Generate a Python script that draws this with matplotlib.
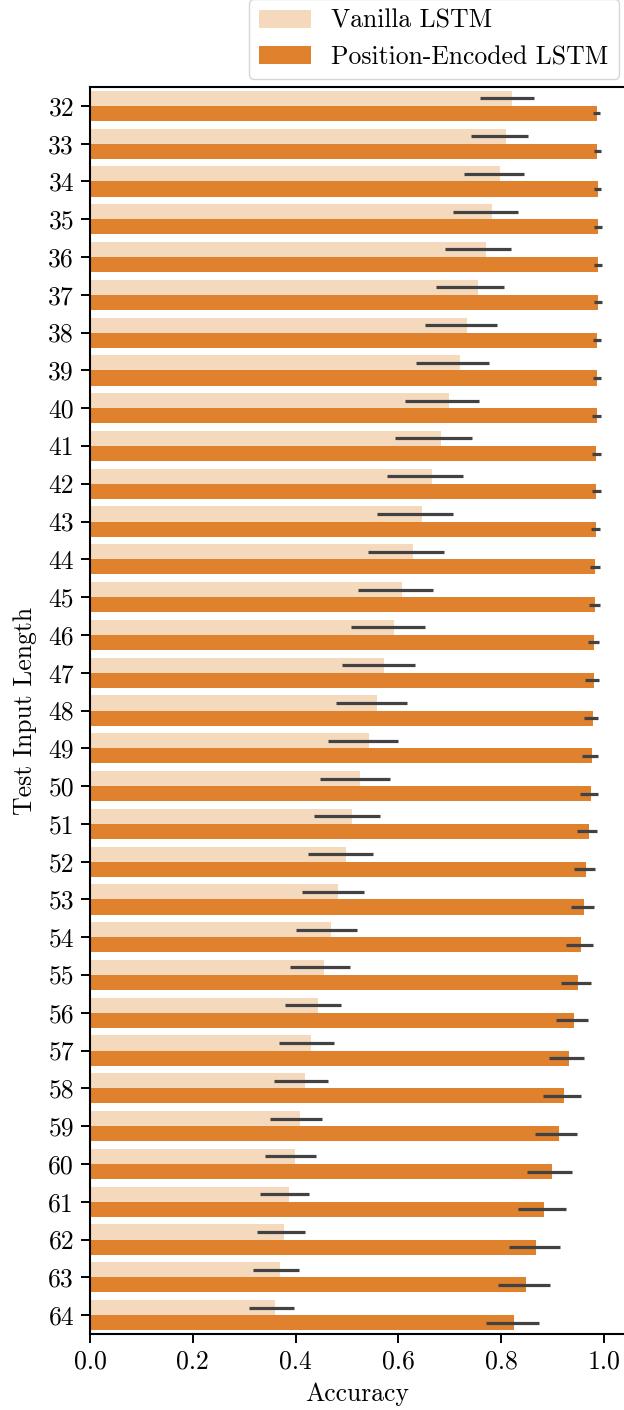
import matplotlib
matplotlib.use('Agg')
import matplotlib.pyplot as plt
import numpy as np

plt.rcParams['font.family'] = 'serif'
plt.rcParams['font.serif'] = ['cmr10', 'DejaVu Serif']
plt.rcParams['mathtext.fontset'] = 'cm'
plt.rcParams['axes.formatter.use_mathtext'] = True

LENGTHS = list(range(32, 65))

vanilla_mean = [0.821, 0.810, 0.798, 0.783, 0.770, 0.754, 0.734, 0.719, 0.699,
                0.683, 0.665, 0.646, 0.628, 0.608, 0.591, 0.573, 0.558, 0.542,
                0.525, 0.509, 0.498, 0.482, 0.468, 0.455, 0.443, 0.430, 0.418,
                0.408, 0.399, 0.387, 0.377, 0.369, 0.360]
vanilla_lo = [0.758, 0.741, 0.727, 0.707, 0.691, 0.674, 0.652, 0.635, 0.613,
              0.594, 0.577, 0.558, 0.541, 0.522, 0.507, 0.490, 0.478, 0.463,
              0.447, 0.435, 0.424, 0.412, 0.400, 0.389, 0.379, 0.368, 0.358,
              0.350, 0.341, 0.331, 0.324, 0.317, 0.309]
vanilla_hi = [0.864, 0.852, 0.844, 0.832, 0.819, 0.806, 0.791, 0.776, 0.757,
              0.743, 0.726, 0.707, 0.689, 0.668, 0.652, 0.633, 0.617, 0.600,
              0.583, 0.564, 0.550, 0.534, 0.519, 0.505, 0.489, 0.475, 0.464,
              0.451, 0.439, 0.427, 0.418, 0.407, 0.397]

pe_mean = [0.987, 0.987, 0.989, 0.989, 0.989, 0.989, 0.987, 0.987, 0.987,
           0.985, 0.985, 0.985, 0.983, 0.983, 0.981, 0.980, 0.978, 0.976,
           0.974, 0.970, 0.966, 0.962, 0.956, 0.950, 0.941, 0.932, 0.923,
           0.912, 0.899, 0.883, 0.868, 0.849, 0.825]
pe_lo = [0.978, 0.980, 0.981, 0.980, 0.980, 0.980, 0.979, 0.978, 0.977,
         0.977, 0.976, 0.974, 0.972, 0.970, 0.968, 0.964, 0.962, 0.958,
         0.953, 0.947, 0.941, 0.935, 0.927, 0.917, 0.906, 0.894, 0.881,
         0.865, 0.851, 0.833, 0.815, 0.793, 0.770]
pe_hi = [0.993, 0.995, 0.995, 0.996, 0.996, 0.996, 0.995, 0.995, 0.995,
         0.995, 0.994, 0.993, 0.993, 0.992, 0.991, 0.991, 0.989, 0.989,
         0.988, 0.986, 0.983, 0.981, 0.978, 0.974, 0.968, 0.962, 0.956,
         0.947, 0.938, 0.927, 0.914, 0.895, 0.873]

LIGHT = '#f5d9bc'
DARK = '#e0812e'
ERR = '#424242'
FS = 18.5

fig = plt.figure(figsize=(6.24, 14.10), dpi=100)
ax = fig.add_axes([90 / 624, 1 - 1334 / 1410, 1 - 90 / 624, (1334 - 87) / 1410])

pos = np.arange(len(LENGTHS))
ax.barh(pos - 0.2, vanilla_mean, height=0.4, color=LIGHT, label='Vanilla LSTM')
ax.barh(pos + 0.2, pe_mean, height=0.4, color=DARK, label='Position-Encoded LSTM')
ax.hlines(pos - 0.2, vanilla_lo, vanilla_hi, color=ERR, lw=2.3)
ax.hlines(pos + 0.2, pe_lo, pe_hi, color=ERR, lw=2.3)

ax.set_xlim(0, 1.039)
ax.set_ylim(len(LENGTHS) - 0.5, -0.5)
ax.set_yticks(pos)
ax.set_yticklabels([str(v) for v in LENGTHS])
ax.set_xticks([0.0, 0.2, 0.4, 0.6, 0.8, 1.0])
ax.set_xticklabels(['0.0', '0.2', '0.4', '0.6', '0.8', '1.0'])
ax.tick_params(labelsize=FS, width=1.4, length=6.5, pad=5)
ax.set_xlabel('Accuracy', fontsize=FS, labelpad=6)
ax.set_ylabel('Test Input Length', fontsize=FS, labelpad=8)
for side in ('left', 'bottom', 'top'):
    ax.spines[side].set_linewidth(1.5)
ax.spines['right'].set_visible(False)

leg = ax.legend(loc='lower right', bbox_to_anchor=(0.995, 1.004), fontsize=FS,
                handlelength=2.0, borderaxespad=0.1, frameon=True)
leg.get_frame().set_edgecolor('#cccccc')

fig.savefig('out.png', dpi=100)
